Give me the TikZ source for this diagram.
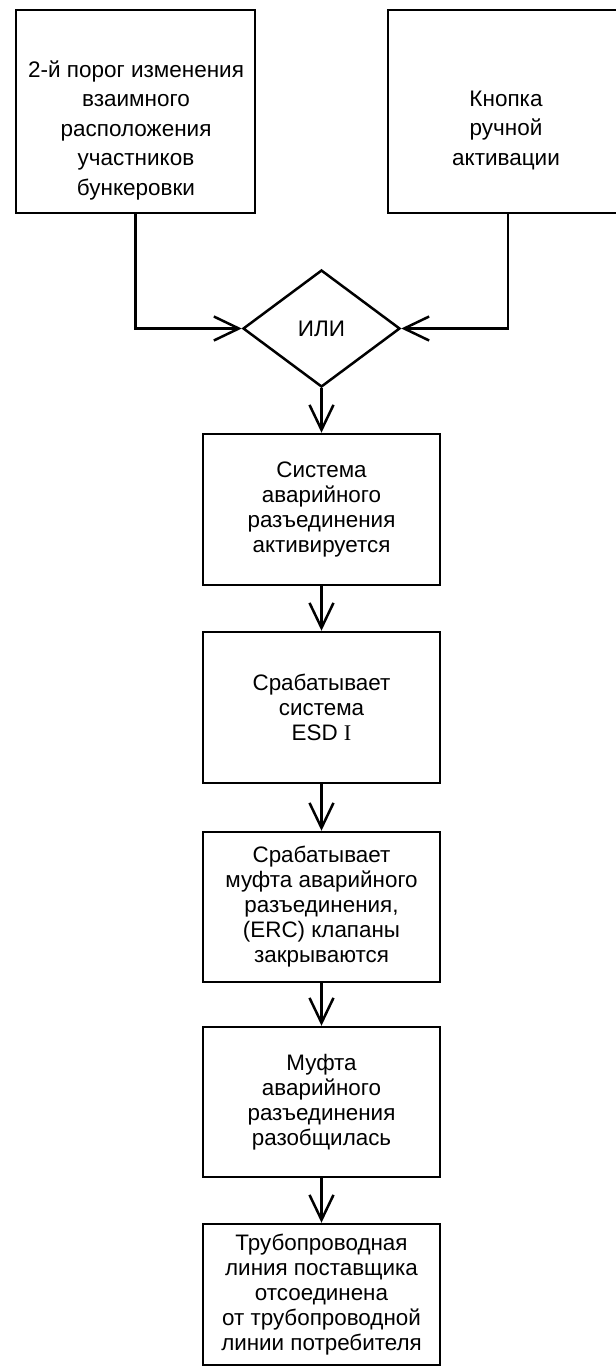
\documentclass[tikz,border=0pt]{standalone}
\usepackage{fontspec}
\setmainfont{Liberation Sans}
\newfontfamily\serifI{Liberation Serif}
\usetikzlibrary{arrows.meta,shapes.geometric}
\begin{document}
\begin{tikzpicture}[x=1pt,y=-1pt,
  box/.style={draw, line width=2.5pt, rectangle, inner sep=0pt, align=center, font=\fontsize{22.4}{25}\selectfont, minimum width=237pt},
  topbox/.style={draw, line width=2.5pt, rectangle, minimum width=239pt, minimum height=203pt, inner sep=0pt},
  toptxt/.style={align=center, font=\fontsize{22.5}{29.5}\selectfont, inner sep=0pt},
  gate/.style={draw, line width=2.5pt, diamond, minimum width=157pt, minimum height=117pt, inner sep=0pt, font=\fontsize{22.5}{26}\selectfont},
  flow/.style={line width=2.5pt, -{Straight Barb[length=25pt, width=24pt, line width=2.5pt]}},
]
\path[use as bounding box] (0,0) rectangle (616,1369);
\clip (0,0) rectangle (616,1369);
\fill[white] (0,0) rectangle (616,1369);

\node[topbox] (tl) at (135.5,111.5) {};
\node[toptxt] (tlt) at (136,130) {2-й порог изменения\\взаимного\\расположения\\участников\\бункеровки};
\node[topbox, minimum width=240pt] (tr) at (508,111.5) {};
\node[toptxt] (trt) at (506,130) {Кнопка\\ручной\\активации};

\node[gate] (or) at (321.5,328.5) {ИЛИ};

\node[box, minimum height=151pt] (b1) at (321.5,509.5) {Система\\аварийного\\разъединения\\активируется};
\node[box, minimum height=151pt] (b2) at (321.5,707.5) {Срабатывает\\система\\ESD {\serifI I}};
\node[box, minimum height=150pt] (b3) at (321.5,907) {Срабатывает\\муфта аварийного\\разъединения,\\(ERC) клапаны\\закрываются};
\node[box, minimum height=150pt] (b4) at (321.5,1102) {Муфта\\аварийного\\разъединения\\разобщилась};
\node[box, minimum height=141pt] (b5) at (321.5,1294.5) {Трубопроводная\\линия поставщика\\отсоединена\\от трубопроводной\\линии потребителя};

\draw[flow] (tl.south) |- (or.west);
\draw[flow] (tr.south) |- (or.east);
\draw[flow] (or.south) -- (b1.north);
\draw[flow] (b1.south) -- (b2.north);
\draw[flow] (b2.south) -- (b3.north);
\draw[flow] (b3.south) -- (b4.north);
\draw[flow] (b4.south) -- (b5.north);
\end{tikzpicture}
\end{document}
